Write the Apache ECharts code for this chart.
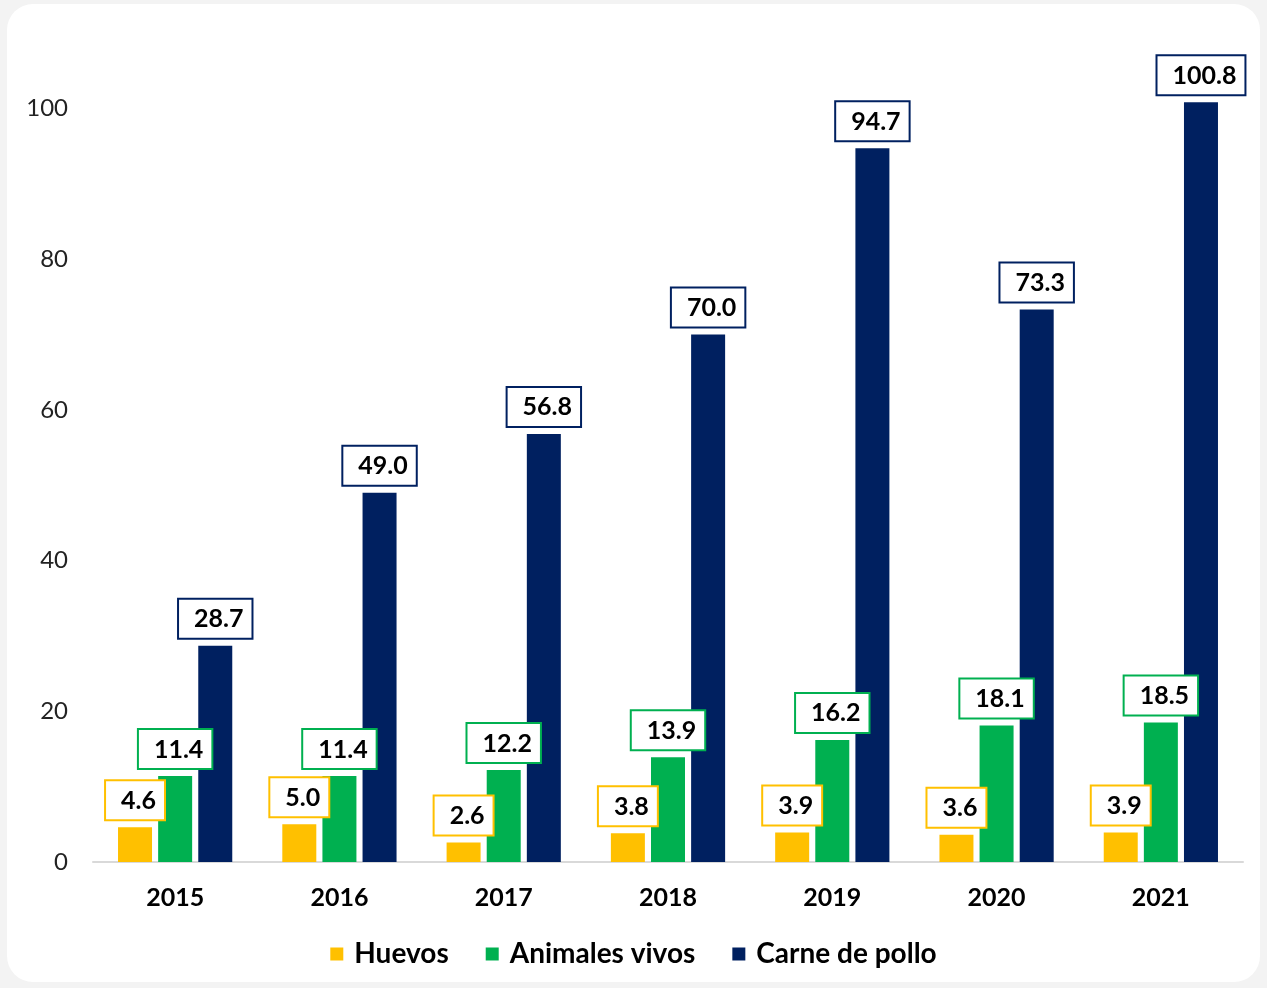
<!DOCTYPE html>
<html>
<head>
<meta charset="utf-8">
<script src="https://cdn.jsdelivr.net/npm/echarts@6/dist/echarts.min.js"></script>
<style>
    html, body { margin: 0; padding: 0; background: #f3f3f3; }
    #card {
        position: absolute; left: 7px; top: 4px; width: 1253px; height: 978px;
        background: #fff; border-radius: 26px;
    }
    #chart { position: absolute; left: 0; top: 0; width: 1267px; height: 988px; }
</style>
</head>
<body>
<div id="card"></div>
<div id="chart"></div>
<script>
    const years = ['2015', '2016', '2017', '2018', '2019', '2020', '2021']
    const huevos = [4.6, 5.0, 2.6, 3.8, 3.9, 3.6, 3.9]
    const animalesVivos = [11.4, 11.4, 12.2, 13.9, 16.2, 18.1, 18.5]
    const carnePollo = [28.7, 49.0, 56.8, 70.0, 94.7, 73.3, 100.8]
    const yTicks = [0, 20, 40, 60, 80, 100]

    const font = 'Lato, "DejaVu Sans", sans-serif'

    function boxLabel (color) {
        return {
            show: true,
            position: 'top',
            distance: 8,
            formatter: p => p.value.toFixed(1),
            fontFamily: font,
            fontWeight: 'bold',
            fontSize: 25,
            color: '#000',
            backgroundColor: '#fff',
            borderColor: color,
            borderWidth: 2,
            padding: [7, 8, 6, 15]
        }
    }

    function makeSeries (name, data, color) {
        return {
            name,
            type: 'bar',
            data,
            barWidth: 34,
            barGap: '18%',
            itemStyle: { color },
            label: boxLabel(color)
        }
    }

    const chart = echarts.init(document.getElementById('chart'))
    chart.setOption({
        animation: false,
        grid: { left: 93, right: 24, top: 33, bottom: 126 },
        legend: {
            bottom: 15,
            left: 'center',
            itemWidth: 13,
            itemHeight: 13,
            itemGap: 37,
            icon: 'rect',
            textStyle: { fontFamily: font, fontWeight: 'bold', fontSize: 28, color: '#000', padding: [0, 0, 0, 6] },
            data: ['Huevos', 'Animales vivos', 'Carne de pollo']
        },
        xAxis: {
            type: 'category',
            data: years,
            axisLine: { lineStyle: { color: '#d9d9d9', width: 2 } },
            axisTick: { show: false },
            axisLabel: { fontFamily: font, fontWeight: 'bold', fontSize: 25, color: '#000', margin: 23 }
        },
        yAxis: {
            type: 'value',
            min: 0,
            max: 110,
            interval: 20,
            splitLine: { show: false },
            axisLine: { show: false },
            axisTick: { show: false },
            axisLabel: {
                showMaxLabel: false,
                fontFamily: font,
                fontSize: 24,
                color: '#222',
                margin: 25,
                formatter: v => yTicks.includes(v) ? String(v) : ''
            }
        },
        series: [
            makeSeries('Huevos', huevos, '#ffc000'),
            makeSeries('Animales vivos', animalesVivos, '#00b050'),
            makeSeries('Carne de pollo', carnePollo, '#002060')
        ]
    })
</script>
</body>
</html>
